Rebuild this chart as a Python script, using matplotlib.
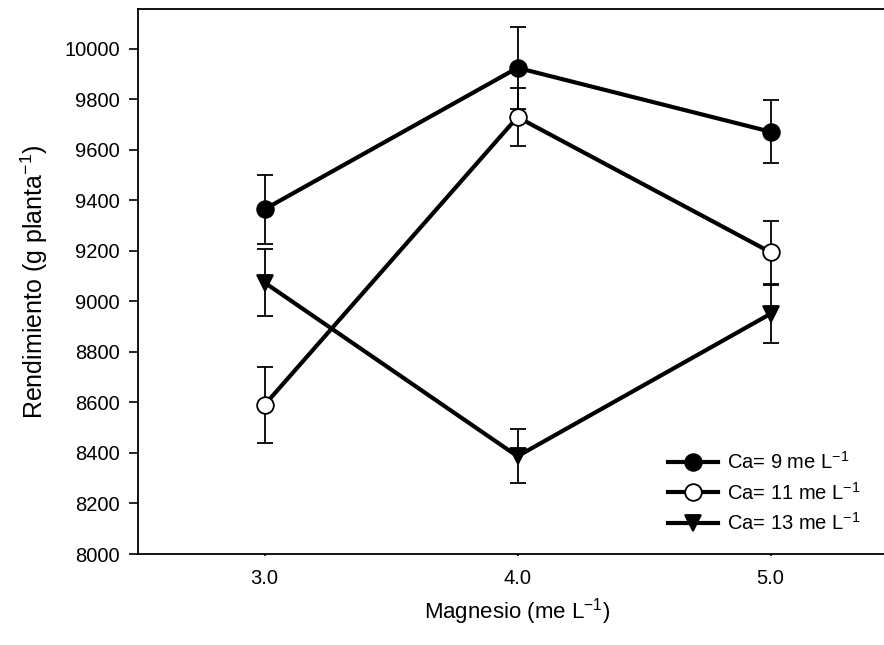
import matplotlib
matplotlib.use("Agg")
import matplotlib.pyplot as plt

plt.rcParams['font.family'] = ['Liberation Sans', 'DejaVu Sans']
plt.rcParams['mathtext.default'] = 'regular'

magnesio = [3.0, 4.0, 5.0]
ca9 = [9365, 9925, 9672]
ca9_err = [137, 162, 125]
ca11 = [8590, 9730, 9195]
ca11_err = [151, 115, 125]
ca13 = [9075, 8387, 8951]
ca13_err = [133, 107, 114]
labels = ['Ca= 9 me L$^{-1}$', 'Ca= 11 me L$^{-1}$', 'Ca= 13 me L$^{-1}$']
yticks = list(range(8000, 10001, 200))

fig = plt.figure(figsize=(8.84, 6.45), dpi=100)
ax = fig.add_axes([138/884, (645-554)/645, 759/884, (554-9)/645])

series = [(ca9, ca9_err, 'o', 'black'), (ca11, ca11_err, 'o', 'white'), (ca13, ca13_err, 'v', 'black')]
for (vals, errs, m, fc), lab in zip(series, labels):
    ax.errorbar(magnesio, vals, yerr=errs, fmt='none', ecolor='black', elinewidth=1.3,
                capsize=5.5, capthick=1.3, zorder=2)
    ax.plot(magnesio, vals, color='black', lw=3, marker=m, markersize=12,
            markerfacecolor=fc, markeredgecolor='black', markeredgewidth=1.3,
            label=lab, zorder=3)

ax.set_xlim(2.5, 5.5)
ax.set_ylim(8000, 10158)
ax.set_xticks(magnesio)
ax.set_xticklabels([f'{v:.1f}' for v in magnesio])
ax.set_yticks(yticks)
ax.tick_params(axis='both', direction='out', width=1.2, labelsize=14.5)
ax.tick_params(axis='y', length=6.5, pad=6.5)
ax.tick_params(axis='x', length=1.5, pad=9)
for s in ax.spines.values():
    s.set_linewidth(1.3)

ax.set_xlabel('Magnesio (me L$^{-1}$)', fontsize=16, labelpad=6)
ax.set_ylabel('Rendimiento (g planta$^{-1}$)', fontsize=18, labelpad=10)

leg = ax.legend(loc='upper left', bbox_to_anchor=(658/884, 1-441/645),
                bbox_transform=fig.transFigure, frameon=False, fontsize=14.5,
                handlelength=2.5, handletextpad=0.45, labelspacing=0.42, borderpad=0)

fig.savefig('out.png', dpi=100)
